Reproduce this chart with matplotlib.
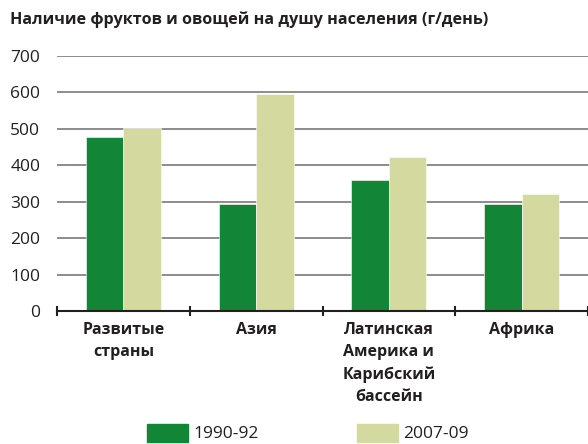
import matplotlib.pyplot as plt
from matplotlib.patches import Rectangle
import numpy as np

# data
regions = ['Развитые\nстраны', 'Азия', 'Латинская\nАмерика и\nКарибский\nбассейн', 'Африка']
series_names = ['1990-92', '2007-09']
vals_1990 = [477, 293, 360, 293]
vals_2007 = [502, 596, 423, 320]
y_ticks = [0, 100, 200, 300, 400, 500, 600, 700]

green = '#138536'
light = '#d3d99f'
text_col = '#231f20'

plt.rcParams['font.family'] = ['Open Sans', 'DejaVu Sans']

fig = plt.figure(figsize=(5.88, 4.44), dpi=100)
ax = fig.add_axes([57 / 588, 1 - 311 / 444, 1 - 57 / 588, (311 - 56) / 444])

x = np.arange(len(regions))
w = 0.283
ax.bar(x - w / 2, vals_1990, w, color=green, edgecolor='white', linewidth=0.4, zorder=3)
ax.bar(x + w / 2, vals_2007, w, color=light, edgecolor='white', linewidth=0.4, zorder=3)

ax.set_ylim(0, 700)
ax.set_xlim(-0.5, 3.43)
ax.set_yticks(y_ticks)
ax.yaxis.grid(True, color='#6d6e71', linewidth=1.1, zorder=0)
ax.tick_params(axis='y', length=0, pad=12, labelsize=12.5, labelcolor=text_col)

# category boundaries get the tick marks, labels sit at centres
ax.set_xticks(np.arange(-0.5, 3.6, 1.0))
ax.set_xticklabels([])
ax.tick_params(axis='x', which='major', direction='inout', length=7, width=1.5, color=text_col)
ax.set_xticks(x, minor=True)
ax.set_xticklabels(regions, minor=True, fontsize=11.5, fontweight='bold', color=text_col,
                   linespacing=1.5, va='top')
ax.tick_params(axis='x', which='minor', length=0, pad=8)

for s in ['left', 'right', 'top']:
    ax.spines[s].set_visible(False)
ax.spines['bottom'].set_color(text_col)
ax.spines['bottom'].set_linewidth(1.5)
ax.spines['bottom'].set_zorder(4)

fig.text(10 / 588, 1 - 20 / 444, 'Наличие фруктов и овощей на душу населения (г/день)',
         fontsize=11.6, fontweight='bold', color=text_col, va='center', ha='left')

# legend drawn by hand so the swatches sit where they do in the original
for px, col, name in [(147, green, series_names[0]), (357, light, series_names[1])]:
    fig.patches.append(Rectangle((px / 588, 1 - 442 / 444), 41 / 588, 18 / 444,
                                 transform=fig.transFigure, color=col))
    fig.text((px + 46) / 588, 1 - 438 / 444, name, fontsize=12.5, color=text_col,
             ha='left', va='baseline')

fig.savefig('out.png', dpi=100)
